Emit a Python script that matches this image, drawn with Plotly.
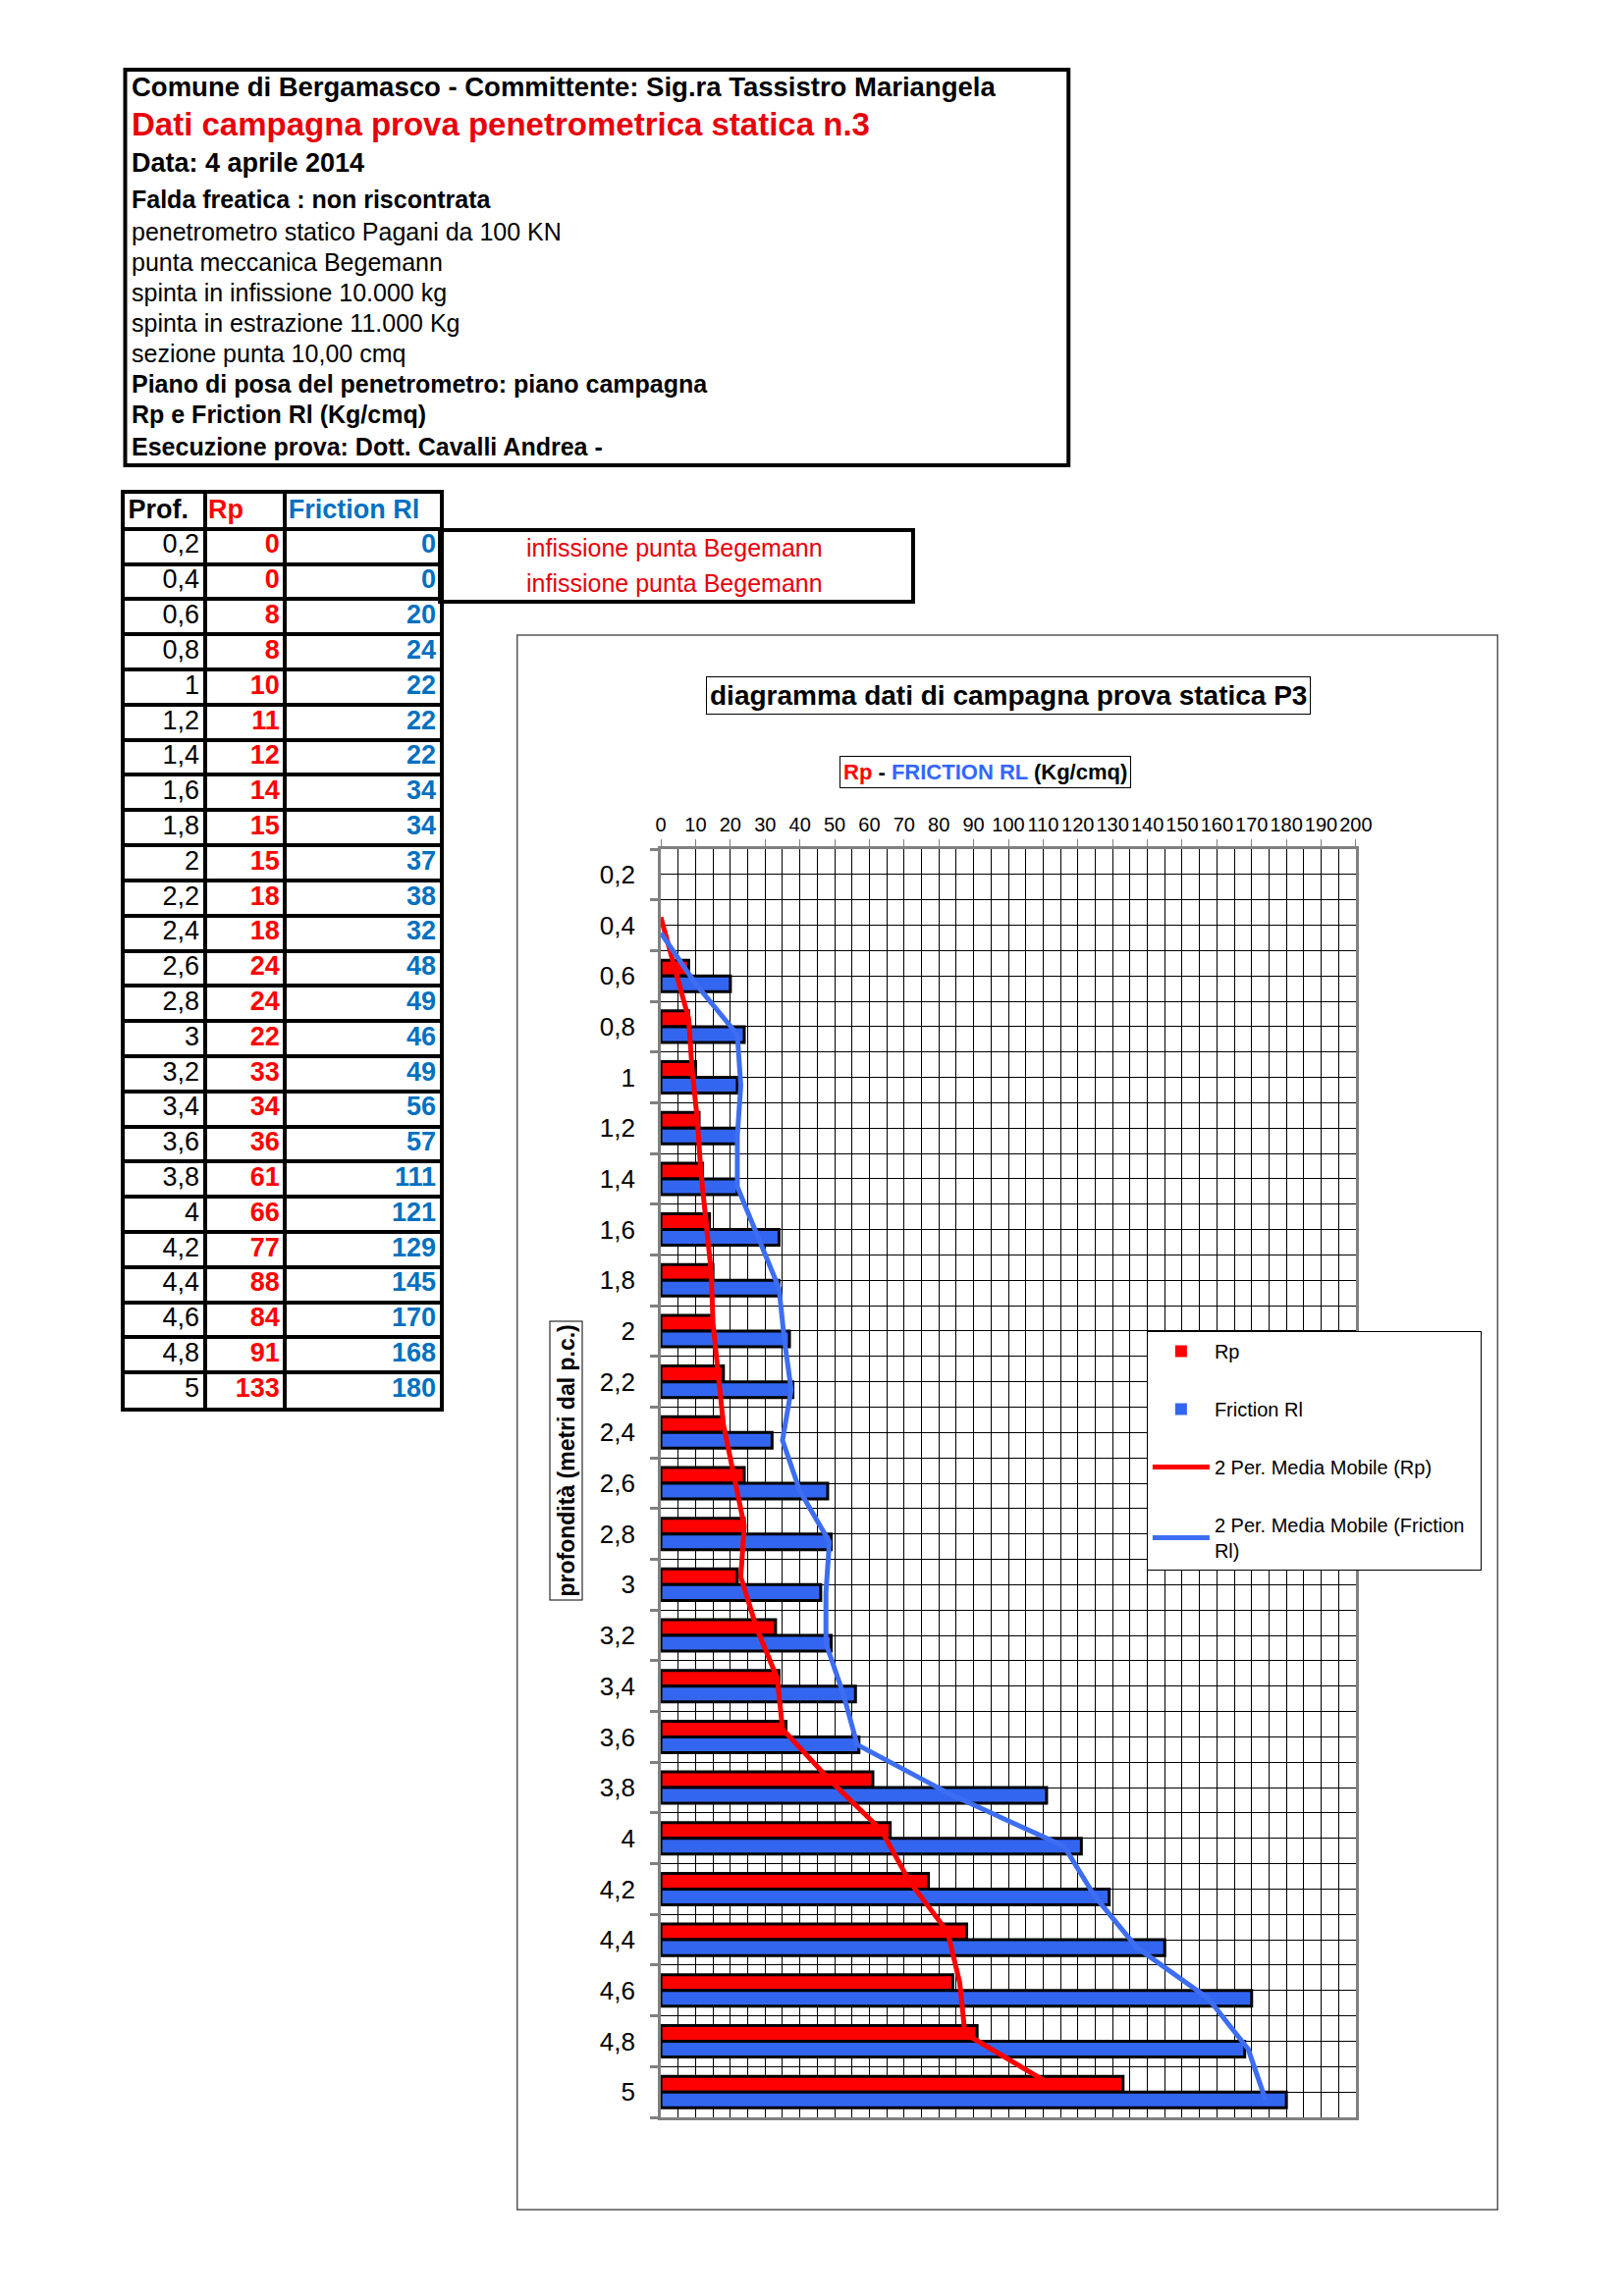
import plotly.graph_objects as go

# ---------------- data ----------------
prof = ["0,2", "0,4", "0,6", "0,8", "1", "1,2", "1,4", "1,6", "1,8", "2",
        "2,2", "2,4", "2,6", "2,8", "3", "3,2", "3,4", "3,6", "3,8", "4",
        "4,2", "4,4", "4,6", "4,8", "5"]
rp = [0, 0, 8, 8, 10, 11, 12, 14, 15, 15, 18, 18, 24, 24, 22, 33, 34, 36, 61, 66,
      77, 88, 84, 91, 133]
friction = [0, 0, 20, 24, 22, 22, 22, 34, 34, 37, 38, 32, 48, 49, 46, 49, 56, 57,
            111, 121, 129, 145, 170, 168, 180]
x_ticks = list(range(0, 201, 10))
table_header = ["Prof.", "Rp", "Friction Rl"]

header_lines = [
    ("Comune di Bergamasco - Committente: Sig.ra Tassistro Mariangela", True, 27.5, "black"),
    ("Dati campagna prova penetrometrica statica n.3", True, 33, "#E8000B"),
    ("Data: 4 aprile 2014", True, 27, "black"),
    ("Falda freatica : non riscontrata", True, 25, "black"),
    ("penetrometro statico Pagani da 100 KN", False, 25, "black"),
    ("punta meccanica Begemann", False, 25, "black"),
    ("spinta in infissione 10.000 kg", False, 25, "black"),
    ("spinta in estrazione 11.000 Kg", False, 25, "black"),
    ("sezione punta 10,00 cmq", False, 25, "black"),
    ("Piano di posa del penetrometro: piano campagna", True, 25, "black"),
    ("Rp e Friction Rl (Kg/cmq)", True, 25, "black"),
    ("Esecuzione prova: Dott. Cavalli Andrea -", True, 25, "black"),
]
header_y = [89, 127, 166, 203, 236, 267, 298, 329, 360, 391, 422, 455]
note_text = "infissione punta Begemann"

W, H = 1654, 2339
M = 8                      # browser body margin
FW, FH = W - 2 * M - 4, H - 2 * M - 8
KX = 1.0098                # horizontal correction observed in rendering
FONT = "Liberation Sans, Arial, sans-serif"
RED = "#FF0000"
BLUE = "#3366F0"
TBLUE = "#0070C0"


def px(x):
    return (x - M) * KX / FW


def py(y):
    return 1 - (y - M) / FH


idx = list(range(len(prof)))
bw = 0.31

# moving averages (period 2), as Excel trendlines
ma_rp = [(rp[i - 1] + rp[i]) / 2 for i in idx[1:]]
ma_fr = [(friction[i - 1] + friction[i]) / 2 for i in idx[1:]]

fig = go.Figure()

fig.add_trace(go.Bar(
    orientation="h", x=rp, y=idx, width=bw, offset=-bw, name="Rp",
    marker=dict(color=RED, line=dict(color=["black" if v else "rgba(0,0,0,0)" for v in rp], width=3)),
    legendgroup="a"))
fig.add_trace(go.Bar(
    orientation="h", x=friction, y=idx, width=bw, offset=0, name="Friction Rl",
    marker=dict(color=BLUE, line=dict(color=["black" if v else "rgba(0,0,0,0)" for v in friction], width=3)),
    legendgroup="b"))
fig.add_trace(go.Scatter(
    x=ma_rp, y=[i - bw / 2 for i in idx[1:]], mode="lines",
    name="2 Per. Media Mobile (Rp)", line=dict(color=RED, width=5),
    legendgroup="c"))
fig.add_trace(go.Scatter(
    x=ma_fr, y=[i + bw / 2 for i in idx[1:]], mode="lines",
    name="2 Per. Media Mobile (Friction\u00a0\u00a0<br>Rl)", line=dict(color="#3D6EF2", width=5),
    legendgroup="d"))

# ---------------- data table (own axes) ----------------
rows = [i + 1 for i in idx]
tfont = 27
fig.add_trace(go.Scatter(
    x=[3, 85, 167], y=[0, 0, 0], mode="text", xaxis="x2", yaxis="y2",
    text=[f"<b>{t}</b>" for t in table_header], textposition="middle right",
    textfont=dict(family=FONT, size=tfont, color=["black", RED, TBLUE]),
    showlegend=False, hoverinfo="skip"))
fig.add_trace(go.Scatter(
    x=[76] * len(prof), y=rows, mode="text", xaxis="x2", yaxis="y2",
    text=prof, textposition="middle left",
    textfont=dict(family=FONT, size=tfont, color="black"),
    showlegend=False, hoverinfo="skip"))
fig.add_trace(go.Scatter(
    x=[158] * len(rp), y=rows, mode="text", xaxis="x2", yaxis="y2",
    text=[f"<b>{v}</b>" for v in rp], textposition="middle left",
    textfont=dict(family=FONT, size=tfont, color=RED),
    showlegend=False, hoverinfo="skip"))
fig.add_trace(go.Scatter(
    x=[318] * len(friction), y=rows, mode="text", xaxis="x2", yaxis="y2",
    text=[f"<b>{v}</b>" for v in friction], textposition="middle left",
    textfont=dict(family=FONT, size=tfont, color=TBLUE),
    showlegend=False, hoverinfo="skip"))

shapes = [
    dict(type="rect", xref="paper", yref="paper", x0=px(122), x1=px(1087),
         y0=py(71), y1=py(474), line=dict(color="black", width=4)),
    dict(type="rect", xref="paper", yref="paper", x0=px(444), x1=px(928),
         y0=py(540), y1=py(613), line=dict(color="black", width=4)),
    dict(type="rect", xref="paper", yref="paper", x0=px(523), x1=px(1526),
         y0=py(647), y1=py(2251), line=dict(color="#555555", width=1.5)),
]

annotations = []
for (txt, bold, size, col), yy in zip(header_lines, header_y):
    annotations.append(dict(
        xref="paper", yref="paper", x=px(127), y=py(yy), xanchor="left",
        yanchor="middle", showarrow=False,
        text=f"<b>{txt}</b>" if bold else txt,
        font=dict(family=FONT, size=size, color=col)))
for yy in (558, 594):
    annotations.append(dict(
        xref="paper", yref="paper", x=px(530), y=py(yy), xanchor="left",
        yanchor="middle", showarrow=False, text=note_text,
        font=dict(family=FONT, size=25, color="#E8000B")))
annotations.append(dict(
    xref="paper", yref="paper", x=px(1025), y=py(689), showarrow=False,
    text="<b>diagramma dati di campagna prova statica P3</b>",
    font=dict(family=FONT, size=28, color="black"),
    bordercolor="black", borderwidth=1, borderpad=3, bgcolor="white"))
annotations.append(dict(
    xref="paper", yref="paper", x=px(1002), y=py(770), showarrow=False,
    text=("<b><span style='color:#FF0000'>Rp</span> - "
          "<span style='color:#3366FF'>FRICTION RL</span> (Kg/cmq)</b>"),
    font=dict(family=FONT, size=22, color="black"),
    bordercolor="black", borderwidth=1, borderpad=3, bgcolor="white"))
annotations.append(dict(
    xref="paper", yref="paper", x=px(573), y=py(1488), showarrow=False,
    text="<b>profondità (metri dal p.c.)</b>", textangle=-90,
    font=dict(family=FONT, size=23, color="black"),
    bordercolor="black", borderwidth=1, borderpad=3, bgcolor="white"))

fig.update_layout(
    width=FW, height=FH, autosize=False, margin=dict(l=0, r=0, t=0, b=0),
    paper_bgcolor="white", plot_bgcolor="white",
    font=dict(family=FONT, color="black"),
    barmode="overlay",
    shapes=shapes, annotations=annotations,
    showlegend=True,
    legend=dict(
        x=px(1167), y=py(1356), xanchor="left", yanchor="top",
        bordercolor="black", borderwidth=1, bgcolor="white",
        font=dict(family=FONT, size=20, color="black"),
        traceorder="grouped", tracegroupgap=30, itemwidth=58),
    xaxis=dict(
        domain=[px(670), px(1381)], range=[0, 200], side="top",
        tickmode="array", tickvals=x_ticks, ticktext=[str(v) for v in x_ticks],
        tickfont=dict(family=FONT, size=20), tickangle=0,
        ticks="outside", ticklen=7, tickcolor="#808080", tickwidth=1,
        showgrid=True, gridcolor="black", gridwidth=1,
        minor=dict(tickmode="linear", tick0=0, dtick=5, showgrid=True,
                   gridcolor="black", gridwidth=1, ticks=""),
        showline=True, linecolor="#808080", linewidth=3, mirror=True,
        zeroline=False, fixedrange=True),
    yaxis=dict(
        domain=[py(2157), py(865)], range=[len(prof) - 0.5, -0.5],
        tickmode="array", tickvals=idx, ticktext=prof,
        tickfont=dict(family=FONT, size=26), ticks="", ticklabelstandoff=18,
        showgrid=True, gridcolor="black", gridwidth=1,
        minor=dict(tickmode="linear", tick0=-0.5, dtick=1, showgrid=True,
                   gridcolor="black", gridwidth=1, ticks="outside", ticklen=8,
                   tickcolor="#808080", tickwidth=3),
        showline=True, linecolor="#808080", linewidth=3, mirror=True,
        zeroline=False, fixedrange=True),
    xaxis2=dict(
        domain=[px(122), px(444)], range=[0, 322], anchor="y2",
        tickmode="array", tickvals=[82, 163], showticklabels=False, ticks="",
        showgrid=True, gridcolor="black", gridwidth=4,
        showline=True, linecolor="black", linewidth=4, mirror=True,
        zeroline=False, fixedrange=True),
    yaxis2=dict(
        domain=[py(1434), py(503)], range=[len(prof) + 0.5, -0.5], anchor="x2",
        tickmode="array", tickvals=[r - 0.5 for r in rows], showticklabels=False,
        ticks="", showgrid=True, gridcolor="black", gridwidth=4,
        showline=True, linecolor="black", linewidth=4, mirror=True,
        zeroline=False, fixedrange=True),
)

fig.write_html("out.html", config={"responsive": False})
